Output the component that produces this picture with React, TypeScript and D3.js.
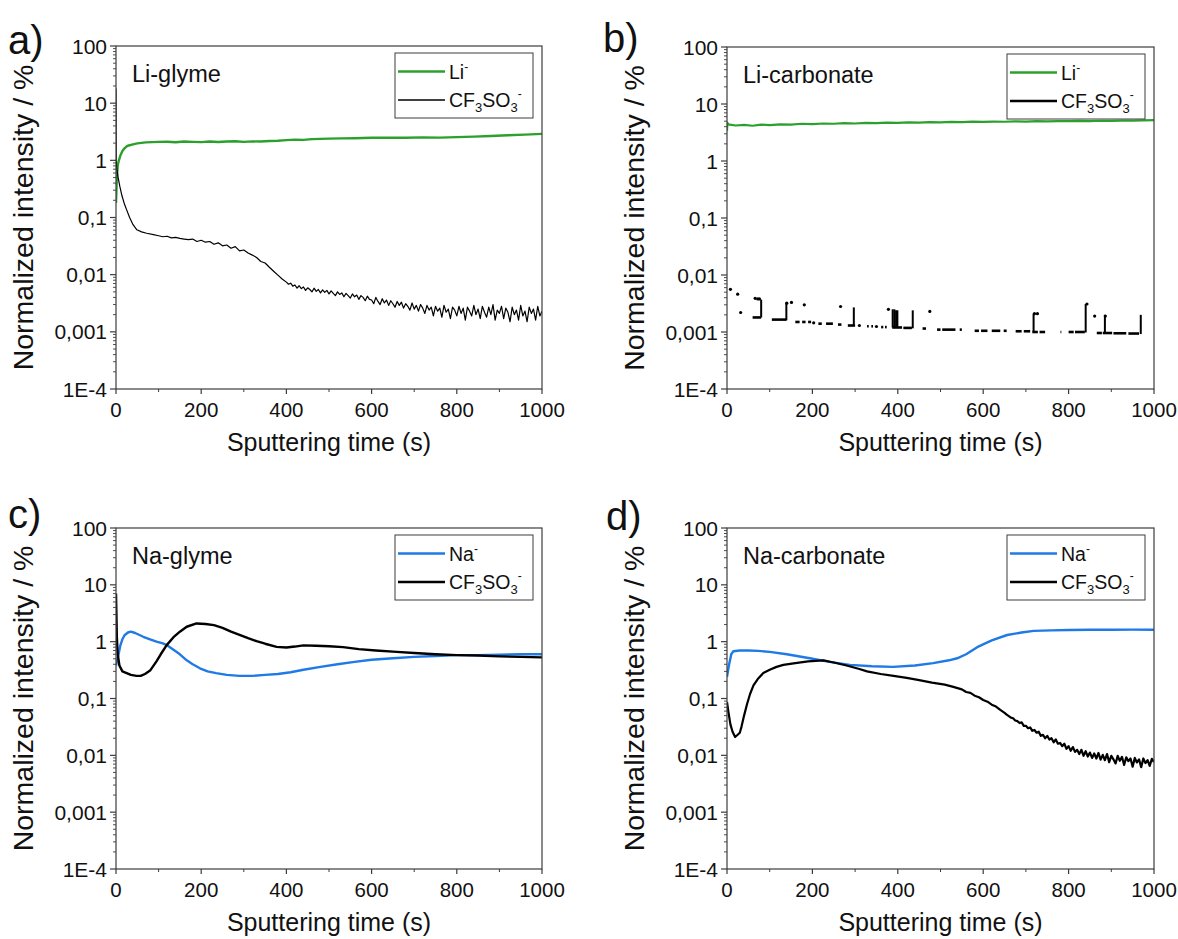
import * as d3 from "d3";

type Pt = [number, number];

// ---- axis ticks ----
const xTicks = [0, 200, 400, 600, 800, 1000];
const xMinor = [100, 300, 500, 700, 900];
const yTicks = [100, 10, 1, 0.1, 0.01, 0.001, 1e-4];
const yTickLabels = ["100", "10", "1", "0,1", "0,01", "0,001", "1E-4"];

// ---- a) Li-glyme ----
const aLi: Pt[] = [
  [0, 0.18], [1, 0.3], [2, 0.5], [4, 0.8], [6, 0.95], [10, 1.2], [15, 1.45], [20, 1.62], [25, 1.75],
  [30, 1.82], [40, 1.9], [50, 1.98], [60, 2.02], [70, 2.06], [85, 2.08], [100, 2.1], [120, 2.12],
  [140, 2.07], [160, 2.13], [180, 2.1], [200, 2.08], [220, 2.14], [240, 2.09], [260, 2.13], [280, 2.16],
  [300, 2.1], [320, 2.15], [340, 2.13], [360, 2.18], [380, 2.2], [400, 2.26], [420, 2.3], [440, 2.28],
  [460, 2.35], [480, 2.37], [500, 2.4], [530, 2.42], [560, 2.44], [600, 2.48], [640, 2.5], [680, 2.48],
  [720, 2.52], [760, 2.5], [800, 2.55], [840, 2.6], [880, 2.66], [920, 2.74], [960, 2.82], [1000, 2.9],
];
const aCf: Pt[] = [
  [0, 18], [0.5, 1.0], [2, 0.72], [5, 0.5], [9, 0.35], [14, 0.24], [20, 0.17], [25, 0.136], [32, 0.1],
  [40, 0.075], [49, 0.061], [60, 0.056], [72, 0.053], [88, 0.05],
  [100, 0.048], [110, 0.046], [120, 0.047], [130, 0.044], [140, 0.045], [150, 0.043], [160, 0.042],
  [170, 0.041], [180, 0.042], [190, 0.038], [200, 0.04], [210, 0.037], [220, 0.038], [230, 0.034],
  [240, 0.036], [250, 0.032], [260, 0.033], [270, 0.029], [280, 0.031], [290, 0.026], [300, 0.027],
  [310, 0.024], [320, 0.022], [330, 0.02], [340, 0.017], [350, 0.016], [360, 0.0135], [370, 0.0115],
  [380, 0.0098], [390, 0.0084], [400, 0.0074], [405, 0.0068], [410, 0.0071], [415, 0.0063], [420, 0.0066],
  [425, 0.0058], [430, 0.0064], [435, 0.0057], [440, 0.0061], [445, 0.0053], [450, 0.0059], [455, 0.0055],
  [460, 0.005], [465, 0.0058], [470, 0.0051], [475, 0.0055], [480, 0.0048], [485, 0.0054], [490, 0.0049],
  [495, 0.0053], [500, 0.0046], [505, 0.0052], [510, 0.0047], [515, 0.0043], [520, 0.005], [525, 0.0045],
  [530, 0.0048], [535, 0.0041], [540, 0.0047], [545, 0.0043], [550, 0.0039], [555, 0.0046], [560, 0.0041],
  [565, 0.0044], [570, 0.0037], [575, 0.0043], [580, 0.004], [585, 0.0035], [590, 0.0042], [595, 0.0037],
  [600, 0.0036], [605, 0.0031], [610, 0.004], [615, 0.0034], [620, 0.003], [625, 0.0038], [630, 0.0032],
  [635, 0.0036], [640, 0.0029], [645, 0.0035], [650, 0.0031], [655, 0.0027], [660, 0.0034], [665, 0.0029],
  [670, 0.0033], [675, 0.0026], [680, 0.0031], [685, 0.0028], [690, 0.0024], [695, 0.0032], [700, 0.0025],
  [705, 0.0029], [710, 0.0023], [715, 0.003], [720, 0.0026], [725, 0.0021], [730, 0.0029], [735, 0.0024],
  [740, 0.0027], [745, 0.0019], [750, 0.0028], [755, 0.0023], [760, 0.0026], [765, 0.0018], [770, 0.0029],
  [775, 0.0022], [780, 0.0025], [785, 0.0017], [790, 0.0027], [795, 0.0024], [800, 0.0019], [805, 0.0028],
  [810, 0.0021], [815, 0.0026], [820, 0.0016], [825, 0.0027], [830, 0.0023], [835, 0.0019], [840, 0.0029],
  [845, 0.002], [850, 0.0025], [855, 0.0017], [860, 0.0028], [865, 0.0022], [870, 0.0018], [875, 0.0027],
  [880, 0.002], [885, 0.003], [890, 0.0016], [895, 0.0024], [900, 0.0021], [905, 0.0028], [910, 0.0017],
  [915, 0.0026], [920, 0.0022], [925, 0.0015], [930, 0.0027], [935, 0.002], [940, 0.0024], [945, 0.0016],
  [950, 0.0029], [955, 0.0019], [960, 0.0023], [965, 0.0015], [970, 0.0027], [975, 0.0021], [980, 0.0025],
  [985, 0.0016], [990, 0.0028], [995, 0.0019], [1000, 0.0023],
];

// ---- b) Li-carbonate ----
const bLi: Pt[] = [
  [0, 3.4], [1, 4.7], [3, 4.4], [20, 4.2], [40, 4.3], [60, 4.15], [80, 4.35], [100, 4.25], [125, 4.4],
  [150, 4.35], [175, 4.5], [200, 4.45], [225, 4.55], [250, 4.5], [275, 4.6], [300, 4.55], [325, 4.65],
  [350, 4.6], [375, 4.7], [400, 4.65], [425, 4.75], [450, 4.7], [475, 4.8], [500, 4.75], [525, 4.85],
  [550, 4.8], [575, 4.9], [600, 4.85], [625, 4.9], [650, 4.88], [675, 4.95], [700, 4.9], [725, 5.0],
  [750, 4.95], [775, 5.0], [800, 5.02], [825, 5.05], [850, 5.0], [875, 5.08], [900, 5.05], [925, 5.1],
  [950, 5.12], [975, 5.15], [1000, 5.2],
];
// CF3SO3- in b) shows only as scattered points: runs [t0, t1, value], single dots, vertical jumps [t, low, high]
const bCfRuns: [number, number, number][] = [
  [60, 80, 0.0018], [105, 139, 0.00165], [160, 170, 0.0015], [176, 184, 0.0015], [190, 197, 0.0015],
  [214, 222, 0.0014], [232, 248, 0.0014], [260, 268, 0.00135], [283, 300, 0.0013], [328, 332, 0.00126],
  [338, 342, 0.00126], [361, 366, 0.00122], [370, 374, 0.00122], [387, 410, 0.0012], [413, 433, 0.00118],
  [458, 466, 0.00115], [492, 500, 0.0011], [504, 535, 0.0011], [545, 550, 0.0011], [580, 590, 0.00105],
  [595, 610, 0.00105], [620, 640, 0.00105], [648, 655, 0.00105], [676, 690, 0.00103], [695, 710, 0.00103],
  [715, 728, 0.001], [732, 745, 0.001], [781, 783, 0.001], [800, 812, 0.001], [815, 838, 0.001],
  [866, 878, 0.00096], [880, 902, 0.00096], [905, 935, 0.00095], [940, 965, 0.00094],
];
const bCfDots: Pt[] = [
  [8, 0.0056], [25, 0.0046], [32, 0.0022], [66, 0.0039], [72, 0.0038], [76, 0.0038], [140, 0.0032],
  [151, 0.0033], [181, 0.003], [203, 0.00145], [266, 0.0028], [310, 0.0013], [350, 0.00125], [378, 0.0025],
  [475, 0.0023], [720, 0.0021], [727, 0.0021], [843, 0.0031], [861, 0.0019], [886, 0.0019],
];
const bCfBars: [number, number, number][] = [
  [80, 0.0018, 0.0037], [139, 0.0016, 0.0033], [297, 0.00128, 0.0027], [388, 0.0012, 0.0025],
  [392, 0.0012, 0.0025], [396, 0.0012, 0.0024], [399, 0.0012, 0.0024], [435, 0.00116, 0.0024],
  [718, 0.001, 0.0021], [840, 0.00098, 0.0031], [885, 0.00095, 0.002], [969, 0.00092, 0.002],
];

// ---- c) Na-glyme ----
const cNa: Pt[] = [
  [0, 0.38], [5, 0.55], [10, 0.85], [15, 1.1], [20, 1.3], [28, 1.45], [35, 1.5], [45, 1.42], [64, 1.22],
  [80, 1.1], [95, 1.0], [110, 0.93], [119, 0.87], [135, 0.72], [150, 0.6], [166, 0.47], [180, 0.4],
  [197, 0.34], [215, 0.3], [235, 0.28], [260, 0.26], [290, 0.25], [320, 0.25], [350, 0.26], [380, 0.27],
  [410, 0.29], [440, 0.32], [480, 0.36], [520, 0.4], [560, 0.44], [600, 0.48], [650, 0.51], [700, 0.54],
  [750, 0.56], [800, 0.58], [850, 0.58], [900, 0.59], [950, 0.6], [1000, 0.6],
];
const cCf: Pt[] = [
  [0, 7], [1, 3], [2, 1.2], [4, 0.6], [8, 0.38], [15, 0.3], [25, 0.28], [35, 0.26], [48, 0.25], [58, 0.25],
  [68, 0.27], [80, 0.31], [95, 0.45], [105, 0.6], [119, 0.87], [135, 1.2], [150, 1.5], [166, 1.83],
  [189, 2.09], [210, 2.05], [230, 1.95], [250, 1.75], [270, 1.5], [290, 1.32], [310, 1.15], [330, 1.02],
  [350, 0.92], [377, 0.81], [400, 0.79], [420, 0.82], [440, 0.86], [470, 0.85], [500, 0.83], [533, 0.8],
  [570, 0.74], [610, 0.7], [659, 0.66], [700, 0.63], [750, 0.6], [800, 0.58], [850, 0.57], [900, 0.55],
  [950, 0.54], [1000, 0.53],
];

// ---- d) Na-carbonate ----
const dNa: Pt[] = [
  [0, 0.24], [5, 0.4], [10, 0.6], [15, 0.68], [30, 0.7], [50, 0.7], [73, 0.69], [100, 0.66], [140, 0.6],
  [194, 0.51], [240, 0.44], [288, 0.39], [340, 0.37], [389, 0.36], [440, 0.38], [483, 0.42], [520, 0.47],
  [539, 0.51], [560, 0.6], [586, 0.8], [620, 1.05], [656, 1.31], [690, 1.45], [718, 1.55], [760, 1.58],
  [800, 1.6], [850, 1.62], [900, 1.62], [950, 1.63], [1000, 1.62],
];
const dCf: Pt[] = [
  [0, 0.087], [3, 0.06], [8, 0.035], [13, 0.026], [19, 0.021], [25, 0.023], [30, 0.025], [34, 0.032],
  [40, 0.05], [47, 0.08], [54, 0.12], [62, 0.17], [72, 0.22], [85, 0.28], [100, 0.32], [116, 0.36],
  [132, 0.39], [160, 0.42], [190, 0.45], [226, 0.47], [250, 0.43], [280, 0.38], [310, 0.33], [328, 0.3],
  [360, 0.27], [390, 0.25], [421, 0.23], [450, 0.21], [480, 0.19], [510, 0.175], [530, 0.16],
  [550, 0.145], [560, 0.13], [570, 0.126], [580, 0.112], [590, 0.105], [600, 0.094], [610, 0.088],
  [620, 0.078], [630, 0.072], [640, 0.063], [650, 0.056], [655, 0.052], [660, 0.049], [665, 0.046],
  [670, 0.045], [675, 0.041], [680, 0.04], [685, 0.037], [690, 0.038], [695, 0.033], [700, 0.033],
  [705, 0.03], [710, 0.031], [715, 0.027], [720, 0.028], [725, 0.025], [730, 0.026], [735, 0.022],
  [740, 0.023], [745, 0.02], [750, 0.022], [755, 0.019], [760, 0.02], [765, 0.017], [770, 0.019],
  [775, 0.016], [780, 0.0165], [785, 0.0145], [790, 0.016], [795, 0.013], [800, 0.0145], [805, 0.012],
  [810, 0.014], [815, 0.0115], [820, 0.0125], [825, 0.0105], [830, 0.0125], [835, 0.0098], [840, 0.0118],
  [845, 0.0095], [850, 0.0112], [855, 0.009], [860, 0.0108], [865, 0.0088], [870, 0.011], [875, 0.0084],
  [880, 0.0102], [885, 0.0082], [890, 0.0105], [895, 0.0076], [900, 0.0098], [905, 0.0085], [910, 0.0072],
  [915, 0.0098], [920, 0.008], [925, 0.0094], [930, 0.0068], [935, 0.0092], [940, 0.0079], [945, 0.0088],
  [950, 0.0063], [955, 0.009], [960, 0.0075], [965, 0.0085], [970, 0.0062], [975, 0.0088], [980, 0.0073],
  [985, 0.0082], [990, 0.0065], [995, 0.0087], [1000, 0.0076],
];

const GREEN = "#2ca02c";
const BLUE = "#1f7ae6";
const AXIS = "#3c3c3c";
const FONT = "'Liberation Sans', Arial, sans-serif";

interface Series {
  data: Pt[];
  color: string;
  width: number;
}
interface PanelProps {
  id: string;
  left: number;
  top: number;
  right: number;
  bottom: number;
  letter: string;
  letterX: number;
  letterY: number;
  title: string;
  ion: string;
  ionColor: string;
  series: Series[];
  legendWidths: [number, number];
  dots?: boolean;
}

function Panel(p: PanelProps) {
  const x = d3.scaleLinear().domain([0, 1000]).range([p.left, p.right]);
  const y = d3.scaleLog().domain([1e-4, 100]).range([p.bottom, p.top]);
  const line = d3
    .line<Pt>()
    .x((d) => x(d[0]))
    .y((d) => y(d[1]));

  const minorY: number[] = [];
  for (let e = -4; e < 2; e++) for (let k = 2; k <= 9; k++) minorY.push(k * Math.pow(10, e));

  const lx = p.right - 147;
  const ly = p.top + 7;

  return (
    <g fontFamily={FONT}>
      <defs>
        <clipPath id={`clip-${p.id}`}>
          <rect x={p.left} y={p.top} width={p.right - p.left} height={p.bottom - p.top} />
        </clipPath>
      </defs>

      <g clipPath={`url(#clip-${p.id})`}>
        {p.series.map((s, i) => (
          <path
            key={i}
            d={line(s.data) || ""}
            fill="none"
            stroke={s.color}
            strokeWidth={s.width}
            strokeLinejoin="round"
          />
        ))}
        {p.dots && (
          <g>
            {bCfRuns.map((r, i) => (
              <line key={"r" + i} x1={x(r[0])} x2={x(r[1])} y1={y(r[2])} y2={y(r[2])} stroke="#000" strokeWidth={2.6} />
            ))}
            {bCfBars.map((b, i) => (
              <line key={"b" + i} x1={x(b[0])} x2={x(b[0])} y1={y(b[1])} y2={y(b[2])} stroke="#000" strokeWidth={2} />
            ))}
            {bCfDots.map((d, i) => (
              <circle key={"d" + i} cx={x(d[0])} cy={y(d[1])} r={1.6} fill="#000" />
            ))}
          </g>
        )}
      </g>

      {/* frame */}
      <rect
        x={p.left}
        y={p.top}
        width={p.right - p.left}
        height={p.bottom - p.top}
        fill="none"
        stroke={AXIS}
        strokeWidth={1.2}
      />

      {/* x ticks */}
      {xTicks.map((t) => (
        <g key={"xt" + t}>
          <line x1={x(t)} x2={x(t)} y1={p.bottom} y2={p.bottom + 5} stroke={AXIS} strokeWidth={1.2} />
          <text x={x(t)} y={p.bottom + 28} textAnchor="middle" fontSize={20.5} fill="#111">
            {t}
          </text>
        </g>
      ))}
      {xMinor.map((t) => (
        <line key={"xm" + t} x1={x(t)} x2={x(t)} y1={p.bottom} y2={p.bottom + 3} stroke={AXIS} strokeWidth={1} />
      ))}

      {/* y ticks */}
      {yTicks.map((t, i) => (
        <g key={"yt" + t}>
          <line x1={p.left - 6} x2={p.left} y1={y(t)} y2={y(t)} stroke={AXIS} strokeWidth={1.2} />
          <text x={p.left - 9} y={y(t) + 7.5} textAnchor="end" fontSize={21} fill="#111">
            {yTickLabels[i]}
          </text>
        </g>
      ))}
      {minorY.map((t) => (
        <line key={"ym" + t} x1={p.left - 3} x2={p.left} y1={y(t)} y2={y(t)} stroke={AXIS} strokeWidth={0.9} />
      ))}

      {/* axis titles */}
      <text x={(p.left + p.right) / 2} y={p.bottom + 62} textAnchor="middle" fontSize={25} fill="#111">
        Sputtering time (s)
      </text>
      <text
        transform={`translate(${p.left - 83},${(p.top + p.bottom) / 2}) rotate(-90)`}
        textAnchor="middle"
        fontSize={28.5}
        fill="#111"
      >
        Normalized intensity / %
      </text>

      {/* panel letter and sample name */}
      <text x={p.letterX} y={p.letterY} fontSize={40} fill="#111">
        {p.letter}
      </text>
      <text x={p.left + 16} y={p.top + 36} fontSize={23.5} fill="#111">
        {p.title}
      </text>

      {/* legend */}
      <rect x={lx} y={ly} width={138} height={65} fill="#fff" stroke={AXIS} strokeWidth={1} />
      <line x1={lx + 3} x2={lx + 50} y1={ly + 18.5} y2={ly + 18.5} stroke={p.ionColor} strokeWidth={p.legendWidths[0]} />
      <line x1={lx + 3} x2={lx + 50} y1={ly + 47} y2={ly + 47} stroke="#000" strokeWidth={p.legendWidths[1]} />
      <text x={lx + 54} y={ly + 25.5} fontSize={19.5} fill="#111">
        {p.ion}
        <tspan fontSize={12} dy={-8}>
          -
        </tspan>
      </text>
      <text x={lx + 54} y={ly + 54} fontSize={19.5} fill="#111">
        CF
        <tspan fontSize={13} dy={5}>
          3
        </tspan>
        <tspan dy={-5}>SO</tspan>
        <tspan fontSize={13} dy={5}>
          3
        </tspan>
        <tspan fontSize={12} dy={-14}>
          -
        </tspan>
      </text>
    </g>
  );
}

export default function App() {
  return (
    <svg
      width={1178}
      height={939}
      style={{ position: "absolute", left: 0, top: 0, background: "#fff" }}
    >
      <Panel
        id="a"
        left={116}
        top={46}
        right={542}
        bottom={389}
        letter="a)"
        letterX={8}
        letterY={54}
        title="Li-glyme"
        ion="Li"
        ionColor={GREEN}
        legendWidths={[2.5, 1.6]}
        series={[
          { data: aLi, color: GREEN, width: 2.4 },
          { data: aCf, color: "#000", width: 1.2 },
        ]}
      />
      <Panel
        id="b"
        left={727}
        top={47}
        right={1154}
        bottom={389}
        letter="b)"
        letterX={603}
        letterY={52}
        title="Li-carbonate"
        ion="Li"
        ionColor={GREEN}
        legendWidths={[2.5, 2.5]}
        series={[{ data: bLi, color: GREEN, width: 2.2 }]}
        dots
      />
      <Panel
        id="c"
        left={116}
        top={528}
        right={542}
        bottom={869}
        letter="c)"
        letterX={8}
        letterY={528}
        title="Na-glyme"
        ion="Na"
        ionColor={BLUE}
        legendWidths={[2.5, 2.5]}
        series={[
          { data: cNa, color: BLUE, width: 2.4 },
          { data: cCf, color: "#000", width: 2.4 },
        ]}
      />
      <Panel
        id="d"
        left={727}
        top={528}
        right={1154}
        bottom={869}
        letter="d)"
        letterX={606}
        letterY={530}
        title="Na-carbonate"
        ion="Na"
        ionColor={BLUE}
        legendWidths={[2.5, 2.5]}
        series={[
          { data: dNa, color: BLUE, width: 2.4 },
          { data: dCf, color: "#000", width: 2.2 },
        ]}
      />
    </svg>
  );
}
